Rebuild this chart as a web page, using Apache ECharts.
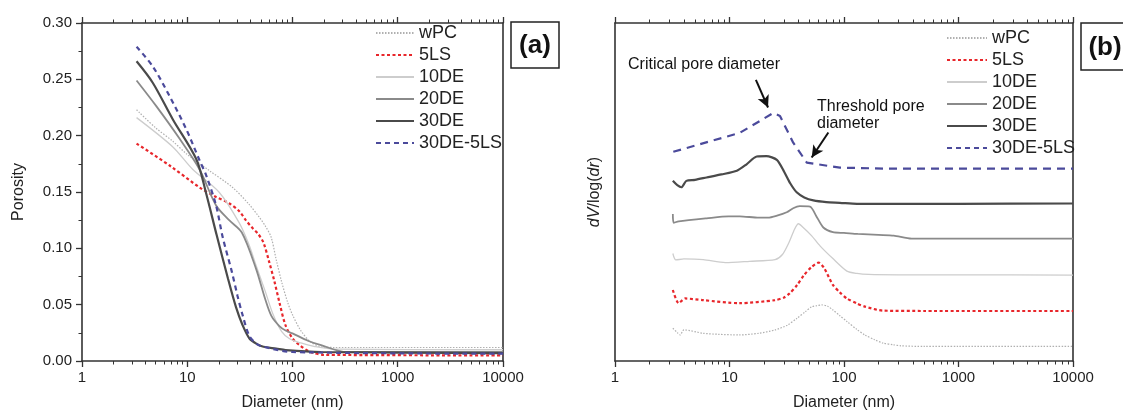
<!DOCTYPE html>
<html>
<head>
<meta charset="utf-8">
<script src="https://cdn.jsdelivr.net/npm/echarts@6/dist/echarts.min.js"></script>
<style>html,body{margin:0;padding:0;background:#fff}#c{width:1123px;height:416px}</style>
</head>
<body>
<div id="c"></div>
<script>
// ---------- DATA ----------
const seriesNames = ['wPC', '5LS', '10DE', '20DE', '30DE', '30DE-5LS'];
const xTickLabels = ['1', '10', '100', '1000', '10000'];
const xMajorTicks = [1, 10, 100, 1000, 10000];
const xMinorTicks = [2,3,4,5,6,7,8,9,20,30,40,50,60,70,80,90,200,300,400,500,600,700,800,900,2000,3000,4000,5000,6000,7000,8000,9000];
const yTicksA = [0, 0.05, 0.10, 0.15, 0.20, 0.25, 0.30];

// Panel (a): porosity vs diameter (nm)
const dA_wPC = [3.3, 5, 7.3, 9.8, 16.2, 27, 38.7, 48, 55, 62.6, 70, 79, 90, 100, 120, 148, 187, 250, 500, 10000];
const vA_wPC = [0.223, 0.207, 0.195, 0.184, 0.169, 0.154, 0.139, 0.128, 0.120, 0.110, 0.090, 0.070, 0.052, 0.041, 0.027, 0.017, 0.0126, 0.012, 0.012, 0.012];
const dA_5LS = [3.3, 6.8, 13.1, 18.8, 25, 31.2, 36, 41.7, 47, 53, 60, 67.6, 76, 85.6, 100, 117, 148, 200, 10000];
const vA_5LS = [0.193, 0.1735, 0.154, 0.1456, 0.140, 0.133, 0.125, 0.118, 0.113, 0.105, 0.088, 0.070, 0.050, 0.032, 0.020, 0.014, 0.008, 0.0055, 0.005];
const dA_10DE = [3.3, 7.3, 11.3, 20, 31, 38.7, 45, 55, 65, 79, 93, 120, 160, 250, 10000];
const vA_10DE = [0.216, 0.190, 0.170, 0.150, 0.123, 0.103, 0.085, 0.062, 0.042, 0.026, 0.020, 0.016, 0.013, 0.0105, 0.010];
const dA_20DE = [3.3, 5.1, 8.5, 13.1, 18.8, 25, 33, 45, 55, 63, 75, 86, 100, 140, 187, 325, 10000];
const vA_20DE = [0.249, 0.226, 0.197, 0.170, 0.138, 0.125, 0.114, 0.082, 0.055, 0.040, 0.031, 0.027, 0.0245, 0.018, 0.014, 0.008, 0.008];
const dA_30DE = [3.3, 4.7, 7.3, 12.2, 15, 19, 24.4, 29, 33.5, 39, 46, 53, 70, 86, 187, 10000];
const vA_30DE = [0.266, 0.247, 0.2144, 0.179, 0.150, 0.112, 0.073, 0.048, 0.032, 0.020, 0.015, 0.0126, 0.011, 0.0097, 0.008, 0.007];
const dA_30DE5LS = [3.3, 4.7, 6.8, 9.8, 13.1, 15.1, 18.8, 21.7, 26.4, 30, 33.5, 39, 46, 53, 100, 10000];
const vA_30DE5LS = [0.279, 0.2615, 0.235, 0.2056, 0.178, 0.165, 0.138, 0.110, 0.080, 0.058, 0.041, 0.022, 0.015, 0.0126, 0.008, 0.0065];

// Panel (b): dV/log(dr), curves stacked with offsets (arbitrary units)
const dB_wPC = [3.2, 3.5, 3.7, 4.0, 5.9, 8, 12.2, 18, 25, 32, 38.7, 46, 52, 58, 64, 72, 80, 92, 106, 130, 152, 185, 219, 270, 315, 500, 1000, 10000];
const vB_wPC = [9.7, 8.4, 7.7, 9.2, 8.2, 7.9, 7.7, 8.2, 9.2, 10.6, 12.6, 14.6, 16.0, 16.4, 16.6, 16.2, 15.1, 13.4, 11.7, 9.3, 7.7, 6.3, 5.3, 4.8, 4.5, 4.3, 4.3, 4.3];
const dB_5LS = [3.2, 3.6, 4.1, 5.9, 12.2, 25, 30, 33.5, 39, 44.7, 52, 60, 67, 80, 92, 106, 130, 152, 219, 500, 10000];
const vB_5LS = [21, 17.1, 18.5, 18, 17.1, 18, 18.8, 20, 22.5, 25.4, 27.8, 29.1, 27.5, 22.5, 20.3, 18.5, 17, 16.1, 14.9, 14.8, 14.8];
const dB_10DE = [3.2, 3.4, 4, 5.9, 9.2, 15, 25, 29, 33, 37, 40, 44, 52, 62, 80, 106, 130, 164, 300, 1000, 10000];
const vB_10DE = [31.8, 29.9, 30.2, 30, 29.1, 29.5, 30, 31.5, 35, 39, 40.6, 39.5, 37.1, 34, 30.3, 26.6, 25.9, 25.6, 25.5, 25.5, 25.4];
const dB_20DE = [3.2, 3.25, 3.6, 6.3, 9.8, 12.3, 18, 21.7, 26, 31.6, 36, 41, 50.5, 57, 66, 80, 100, 132, 200, 272, 389, 1000, 10000];
const vB_20DE = [43.5, 40.9, 41.3, 42.2, 42.8, 42.8, 42.4, 42.4, 43, 44, 45.2, 45.8, 45.7, 43, 39.5, 38.1, 37.9, 37.6, 37.3, 37.1, 36.2, 36.2, 36.2];
const dB_30DE = [3.2, 3.5, 3.8, 4.2, 5, 6.3, 8.5, 11.6, 14.1, 17.3, 21, 25.9, 30, 34, 38.6, 45, 54, 70, 92, 130, 300, 1000, 10000];
const vB_30DE = [53.3, 52, 51.4, 53.3, 53.6, 54.3, 55.2, 56.3, 58.2, 60.5, 60.6, 59.5, 56, 52.5, 49.9, 48.4, 47.5, 47, 46.8, 46.5, 46.5, 46.5, 46.6];
const dB_30DE5LS = [3.23, 12.3, 24.2, 27.6, 36, 47.3, 92, 253, 10000];
const vB_30DE5LS = [61.9, 67.5, 73.4, 72.5, 64.6, 58.7, 57.2, 56.9, 56.9];

// Annotation arrows (data coordinates on panel b)
const arrowCritical = [[17.0, 83.2], [21.7, 75.0]];
const arrowThreshold = [[73.0, 67.6], [52.2, 60.2]];

// ---------- STYLES ----------
const FONT = 'Liberation Sans, Arial, Helvetica, sans-serif';
const AX = '#333';
const styles = {
  'wPC':      {color: '#b0b0b0', width: 1.2, type: [1.5, 1.5]},
  '5LS':      {color: '#e8262b', width: 2.2, type: [3, 2.5]},
  '10DE':     {color: '#cdcdcd', width: 1.3, type: 'solid'},
  '20DE':     {color: '#8a8a8a', width: 1.8, type: 'solid'},
  '30DE':     {color: '#4a4a4a', width: 2.2, type: 'solid'},
  '30DE-5LS': {color: '#4b4a9b', width: 2.2, type: [5, 4]}
};

function pairs(d, v) { return d.map((x, i) => [x, v[i]]); }

const dataA = {
  'wPC': pairs(dA_wPC, vA_wPC), '5LS': pairs(dA_5LS, vA_5LS), '10DE': pairs(dA_10DE, vA_10DE),
  '20DE': pairs(dA_20DE, vA_20DE), '30DE': pairs(dA_30DE, vA_30DE), '30DE-5LS': pairs(dA_30DE5LS, vA_30DE5LS)
};
const dataB = {
  'wPC': pairs(dB_wPC, vB_wPC), '5LS': pairs(dB_5LS, vB_5LS), '10DE': pairs(dB_10DE, vB_10DE),
  '20DE': pairs(dB_20DE, vB_20DE), '30DE': pairs(dB_30DE, vB_30DE), '30DE-5LS': pairs(dB_30DE5LS, vB_30DE5LS)
};

function xAxesFor(gridIndex) {
  const base = {type: 'log', logBase: 10, min: 1, max: 10000, gridIndex: gridIndex, splitLine: {show: false}};
  return [
    Object.assign({}, base, {
      position: 'bottom',
      name: 'Diameter (nm)', nameLocation: 'middle', nameGap: 34,
      nameTextStyle: {fontFamily: FONT, fontSize: 16, color: '#222'},
      axisLine: {show: true, lineStyle: {color: AX, width: 1.6}},
      axisTick: {show: true, length: 6, lineStyle: {color: AX, width: 1.3}, customValues: xMajorTicks},
      axisLabel: {show: true, fontFamily: FONT, fontSize: 15, color: '#222', margin: 9,
        customValues: xMajorTicks, formatter: (v) => xTickLabels[xMajorTicks.indexOf(Math.round(v))] || ''}
    }),
    Object.assign({}, base, {
      position: 'bottom', axisLine: {show: false}, axisLabel: {show: false},
      axisTick: {show: true, length: 3.5, lineStyle: {color: AX, width: 1}, customValues: xMinorTicks}
    }),
    Object.assign({}, base, {
      position: 'top', axisLine: {show: true, lineStyle: {color: AX, width: 1.6}}, axisLabel: {show: false},
      axisTick: {show: true, length: 6, lineStyle: {color: AX, width: 1.3}, customValues: xMajorTicks}
    }),
    Object.assign({}, base, {
      position: 'top', axisLine: {show: false}, axisLabel: {show: false},
      axisTick: {show: true, length: 3.5, lineStyle: {color: AX, width: 1}, customValues: xMinorTicks}
    })
  ];
}

const xAxis = xAxesFor(0).concat(xAxesFor(1));

const yAxis = [
  {
    type: 'value', gridIndex: 0, position: 'left', min: 0, max: 0.30, interval: 0.05,
    name: 'Porosity', nameLocation: 'middle', nameGap: 55,
    nameTextStyle: {fontFamily: FONT, fontSize: 16, color: '#222'},
    axisLine: {show: true, lineStyle: {color: AX, width: 1.6}},
    axisTick: {show: true, length: 6, lineStyle: {color: AX, width: 1.3}},
    minorTick: {show: true, splitNumber: 2, length: 3.5, lineStyle: {color: AX, width: 1}},
    axisLabel: {fontFamily: FONT, fontSize: 15, color: '#222', margin: 10, formatter: (v) => v.toFixed(2)},
    splitLine: {show: false}
  },
  {
    type: 'value', gridIndex: 0, position: 'right', min: 0, max: 0.30,
    axisLine: {show: true, lineStyle: {color: AX, width: 1.6}},
    axisTick: {show: false}, axisLabel: {show: false}, splitLine: {show: false}
  },
  {
    type: 'value', gridIndex: 1, position: 'left', min: 0, max: 100,
    name: '{i|dV}/log({i|dr})', nameLocation: 'middle', nameGap: 12,
    nameTextStyle: {fontFamily: FONT, fontSize: 16, color: '#222',
      rich: {i: {fontFamily: FONT, fontSize: 16, fontStyle: 'italic', color: '#222'}}},
    axisLine: {show: true, lineStyle: {color: AX, width: 1.6}},
    axisTick: {show: false}, axisLabel: {show: false}, splitLine: {show: false}
  },
  {
    type: 'value', gridIndex: 1, position: 'right', min: 0, max: 100,
    axisLine: {show: true, lineStyle: {color: AX, width: 1.6}},
    axisTick: {show: false}, axisLabel: {show: false}, splitLine: {show: false}
  }
];

const series = [];
seriesNames.forEach((n) => {
  const s = styles[n];
  series.push({
    name: n, type: 'line', xAxisIndex: 0, yAxisIndex: 0, data: dataA[n],
    symbol: 'none', smooth: 0.3, z: n === '30DE-5LS' ? 5 : 3,
    lineStyle: {color: s.color, width: s.width, type: s.type}, itemStyle: {color: s.color}
  });
});
seriesNames.forEach((n) => {
  const s = styles[n];
  const item = {
    name: n, type: 'line', xAxisIndex: 4, yAxisIndex: 2, data: dataB[n],
    symbol: 'none', smooth: n === '30DE-5LS' ? false : 0.25, z: 3,
    lineStyle: {color: s.color, width: s.width, type: n === '30DE-5LS' ? [8, 6] : s.type},
    itemStyle: {color: s.color}
  };
  if (n === '30DE-5LS') {
    item.markLine = {
      silent: true, symbol: ['none', 'arrow'], symbolSize: [9, 12],
      label: {show: false},
      lineStyle: {color: '#111', width: 2, type: 'solid'},
      data: [
        [{coord: arrowCritical[0]}, {coord: arrowCritical[1]}],
        [{coord: arrowThreshold[0]}, {coord: arrowThreshold[1]}]
      ]
    };
  }
  series.push(item);
});

const legendCommon = {
  orient: 'vertical', data: seriesNames, padding: 0, itemGap: 4,
  itemHeight: 18,
  itemStyle: {opacity: 0, borderWidth: 0},
  textStyle: {fontFamily: FONT, fontSize: 18, color: '#222', padding: [0, 0, 0, 0]},
  selectedMode: false
};

const option = {
  animation: false,
  backgroundColor: '#fff',
  grid: [
    {left: 82, right: 620, top: 23, bottom: 53, containLabel: false},
    {left: 615, right: 50, top: 23, bottom: 53, containLabel: false}
  ],
  xAxis: xAxis,
  yAxis: yAxis,
  legend: [
    Object.assign({}, legendCommon, {left: 375, top: 24, itemWidth: 38}),
    Object.assign({}, legendCommon, {left: 946, top: 29, itemWidth: 40})
  ],
  series: series,
  graphic: [
    {type: 'rect', shape: {x: 511, y: 22, width: 48, height: 46}, style: {fill: '#fff', stroke: '#222', lineWidth: 1.5}},
    {type: 'text', x: 535, y: 46, style: {text: '(a)', font: 'bold 26px ' + FONT, textAlign: 'center', textVerticalAlign: 'middle', fill: '#111'}},
    {type: 'rect', shape: {x: 1081, y: 23, width: 50, height: 47}, style: {fill: '#fff', stroke: '#222', lineWidth: 1.5}},
    {type: 'text', x: 1105, y: 48, style: {text: '(b)', font: 'bold 26px ' + FONT, textAlign: 'center', textVerticalAlign: 'middle', fill: '#111'}},
    {type: 'text', x: 628, y: 65, style: {text: 'Critical pore diameter', font: '16px ' + FONT, textVerticalAlign: 'middle', fill: '#111'}},
    {type: 'text', x: 817, y: 98, style: {text: 'Threshold pore\ndiameter', font: '16px ' + FONT, lineHeight: 17, textVerticalAlign: 'top', fill: '#111'}}
  ]
};

const chart = echarts.init(document.getElementById('c'), null, {renderer: 'canvas'});
chart.setOption(option);
</script>
</body>
</html>
